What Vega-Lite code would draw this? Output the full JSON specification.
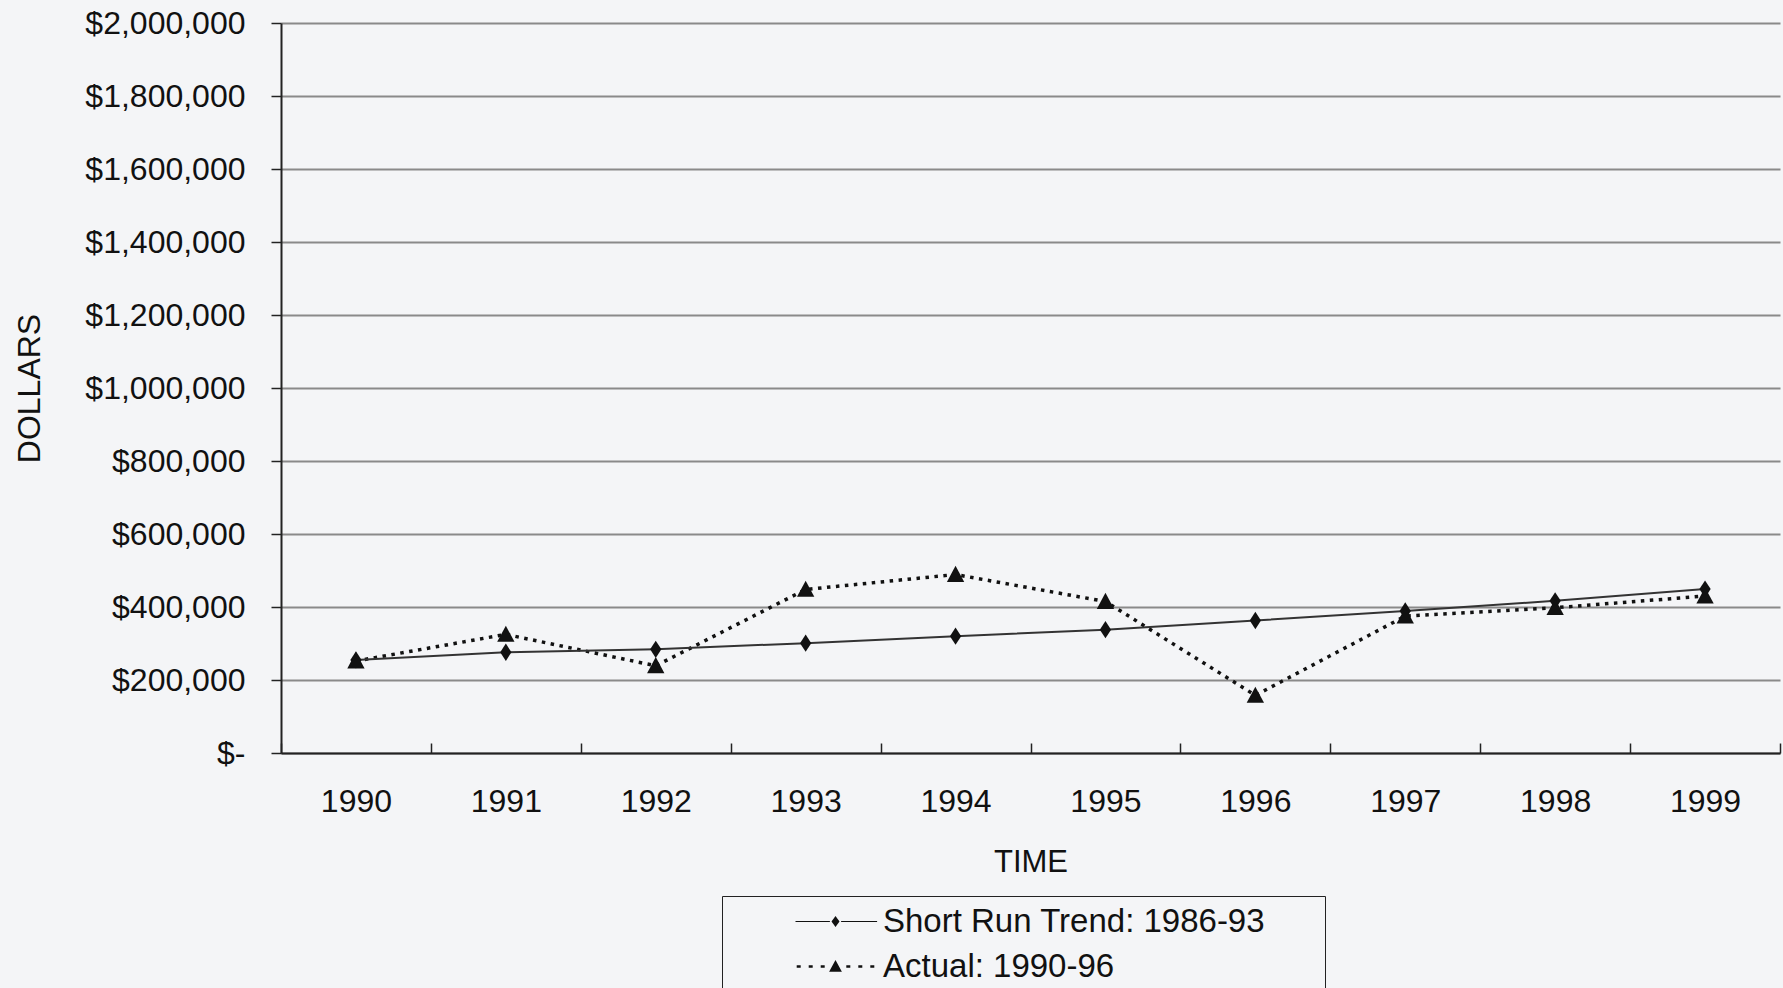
{
  "$schema": "https://vega.github.io/schema/vega-lite/v6.json",
  "width": 1499,
  "height": 730,
  "autosize": "none",
  "padding": {"left": 281, "top": 23, "right": 3, "bottom": 235},
  "background": "#f4f5f7",
  "config": {
    "font": "Liberation Sans",
    "view": {"stroke": null},
    "axis": {"labelColor": "#111", "titleColor": "#111", "titleFontWeight": "normal"}
  },
  "data": {
    "values": [
      {"year": "1990", "series": "Short Run Trend: 1986-93", "value": 255000},
      {"year": "1991", "series": "Short Run Trend: 1986-93", "value": 276000},
      {"year": "1992", "series": "Short Run Trend: 1986-93", "value": 284000},
      {"year": "1993", "series": "Short Run Trend: 1986-93", "value": 301000},
      {"year": "1994", "series": "Short Run Trend: 1986-93", "value": 320000},
      {"year": "1995", "series": "Short Run Trend: 1986-93", "value": 338000},
      {"year": "1996", "series": "Short Run Trend: 1986-93", "value": 363000},
      {"year": "1997", "series": "Short Run Trend: 1986-93", "value": 389000},
      {"year": "1998", "series": "Short Run Trend: 1986-93", "value": 417000},
      {"year": "1999", "series": "Short Run Trend: 1986-93", "value": 449000},
      {"year": "1990", "series": "Actual: 1990-96", "value": 252000},
      {"year": "1991", "series": "Actual: 1990-96", "value": 325000},
      {"year": "1992", "series": "Actual: 1990-96", "value": 239000},
      {"year": "1993", "series": "Actual: 1990-96", "value": 448000},
      {"year": "1994", "series": "Actual: 1990-96", "value": 489000},
      {"year": "1995", "series": "Actual: 1990-96", "value": 415000},
      {"year": "1996", "series": "Actual: 1990-96", "value": 158000},
      {"year": "1997", "series": "Actual: 1990-96", "value": 375000},
      {"year": "1998", "series": "Actual: 1990-96", "value": 398000},
      {"year": "1999", "series": "Actual: 1990-96", "value": 430000}
    ]
  },
  "encoding": {
    "x": {
      "field": "year", "type": "ordinal",
      "scale": {"type": "band", "paddingInner": 0, "paddingOuter": 0},
      "axis": {
        "title": "TIME", "titleFontSize": 31, "titlePadding": 30,
        "labelAngle": 0, "labelFontSize": 32, "labelPadding": 43,
        "tickBand": "extent", "tickSize": -10, "tickColor": "#222", "tickWidth": 1.5,
        "domainColor": "#222", "domainWidth": 2, "grid": false
      }
    },
    "y": {
      "field": "value", "type": "quantitative",
      "scale": {"domain": [0, 2000000], "nice": false},
      "axis": {
        "title": "DOLLARS", "titleFontSize": 32, "titlePadding": 38,
        "values": [0, 200000, 400000, 600000, 800000, 1000000, 1200000, 1400000, 1600000, 1800000, 2000000],
        "labelExpr": "datum.value === 0 ? '$-' : '$' + format(datum.value, ',')",
        "labelFontSize": 32, "labelPadding": 26,
        "tickSize": 10, "tickColor": "#222", "tickWidth": 1.5,
        "domainColor": "#222", "domainWidth": 2,
        "grid": true, "gridColor": "#8a8a8a", "gridWidth": 2, "gridOpacity": 1
      }
    }
  },
  "resolve": {"scale": {"shape": "independent"}, "legend": {"shape": "independent"}},
  "layer": [
    {
      "transform": [{"filter": "datum.series === 'Actual: 1990-96'"}],
      "mark": {"type": "line", "color": "#111", "strokeWidth": 3.5, "strokeDash": [3.5, 5.5], "strokeCap": "butt"},
      "encoding": {"y": {"field": "value", "type": "quantitative"}}
    },
    {
      "transform": [{"filter": "datum.series === 'Short Run Trend: 1986-93'"}],
      "mark": {"type": "line", "color": "#333", "strokeWidth": 2},
      "encoding": {"y": {"field": "value", "type": "quantitative"}}
    },
    {
      "mark": {"type": "point", "filled": true, "opacity": 1, "color": "#111", "size": 300},
      "encoding": {
        "shape": {
          "field": "series", "type": "nominal", "legend": null,
          "scale": {
            "domain": ["Short Run Trend: 1986-93", "Actual: 1990-96"],
            "range": ["M0,-1L0.65,0L0,1L-0.65,0Z", "M0,-1L1,0.85L-1,0.85Z"]
          }
        }
      }
    },
    {
      "mark": {"type": "point", "filled": true, "opacity": 0, "color": "#111", "size": 10},
      "encoding": {
        "shape": {
          "field": "series", "type": "nominal",
          "scale": {
            "domain": ["Short Run Trend: 1986-93", "Actual: 1990-96"],
            "range": [
              "M60,0M-5,-0.07L-0.7,-0.07L-0.7,0.07L-5,0.07ZM0.7,-0.07L5.2,-0.07L5.2,0.07L0.7,0.07ZM0,-0.7L0.5,0L0,0.7L-0.5,0Z",
              "M60,0M-4.85,-0.17h0.5v0.34h-0.5ZM-3.35,-0.17h0.5v0.34h-0.5ZM-1.85,-0.17h0.5v0.34h-0.5ZM1.35,-0.17h0.5v0.34h-0.5ZM2.85,-0.17h0.5v0.34h-0.5ZM4.35,-0.17h0.5v0.34h-0.5ZM0,-0.8L0.8,0.65L-0.8,0.65Z"
            ]
          },
          "legend": {
            "title": null,
            "orient": "none", "legendX": 441, "legendY": 873,
            "direction": "vertical",
            "strokeColor": "#222", "fillColor": "#f4f5f7",
            "padding": 9,
            "labelFontSize": 33, "labelColor": "#111", "labelLimit": 600,
            "symbolSize": 256, "symbolOffset": 88, "labelOffset": 31, "rowPadding": 11,
            "symbolOpacity": 1, "symbolFillColor": "#111", "symbolStrokeWidth": 0
          }
        }
      }
    }
  ]
}
